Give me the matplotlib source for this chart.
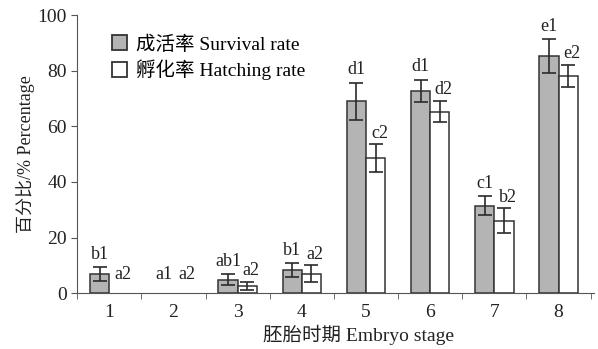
import matplotlib
matplotlib.use("Agg")
import matplotlib.pyplot as plt
from matplotlib.patches import Patch
import numpy as np

plt.rcParams['font.family'] = ['Liberation Serif', 'Noto Sans CJK SC']

stages = ['1', '2', '3', '4', '5', '6', '7', '8']
survival = [7, 0, 4.8, 8.2, 69, 72.8, 31.5, 85.2]
survival_err = [2.5, 0, 2, 2.5, 6.7, 4, 3.5, 6]
hatching = [0, 0, 2.6, 7, 48.5, 65.3, 26, 78]
hatching_err = [0, 0, 1.5, 3, 5, 3.7, 4.5, 4]
survival_labels = ['b1', 'a1', 'ab1', 'b1', 'd1', 'd1', 'c1', 'e1']
hatching_labels = ['a2', 'a2', 'a2', 'a2', 'c2', 'd2', 'b2', 'e2']

gray = '#555555'
dark = '#222222'
fill_s = '#b4b4b4'
edge = '#333333'
fig = plt.figure(figsize=(5.98, 3.49), dpi=100)
ax = fig.add_axes([0.129, 0.160, 0.864, 0.797])

x = np.arange(len(stages))
w = 0.3
s_edge = [edge if v > 0 else 'none' for v in survival]
h_edge = [edge if v > 0 else 'none' for v in hatching]
ax.bar(x - w / 2, survival, w, color=fill_s, edgecolor=s_edge, linewidth=1.1)
ax.bar(x + w / 2, hatching, w, color='white', edgecolor=h_edge, linewidth=1.1)

# error bars only where there is a spread
for xs, vals, errs in [(x - w / 2, survival, survival_err), (x + w / 2, hatching, hatching_err)]:
    keep = [i for i in range(len(vals)) if errs[i] > 0]
    ax.errorbar([xs[i] for i in keep], [vals[i] for i in keep], yerr=[errs[i] for i in keep],
                fmt='none', ecolor='#2a2a2a', elinewidth=1.2, capsize=5, capthick=1.2)

# significance letters
for i in range(len(stages)):
    if survival[i] == 0:
        ys = 3.5
    else:
        ys = survival[i] + survival_err[i] + 1.5
    ax.text(x[i] - w / 2, ys, survival_labels[i], ha='center', va='bottom', fontsize=13, color=dark)
    if hatching[i] == 0:
        yh = 3.5
    else:
        yh = hatching[i] + hatching_err[i] + 1
    ax.text(x[i] + w / 2 + 0.06, yh, hatching_labels[i], ha='center', va='bottom', fontsize=13, color=dark)

ax.set_xlim(-0.5, 7.55)
ax.set_ylim(0, 100)
ax.set_yticks(np.arange(0, 101, 20))
ax.set_xticks(x)
ax.set_xticklabels(stages)
ax.set_xticks(np.arange(-0.5, 7.6, 1), minor=True)
ax.tick_params(axis='x', which='major', length=0, pad=8)
ax.tick_params(axis='x', which='minor', length=4, direction='out', color=gray)
ax.tick_params(axis='y', length=4, direction='out', color=gray)
ax.tick_params(labelsize=14, labelcolor=dark)

for s in ['top', 'right']:
    ax.spines[s].set_visible(False)
for s in ['left', 'bottom']:
    ax.spines[s].set_color(gray)

ax.set_ylabel('百分比/% Percentage', fontsize=13, color=dark, labelpad=2)
ax.set_xlabel('胚胎时期 Embryo stage', fontsize=14, color=dark, labelpad=5)
ax.xaxis.set_label_coords(0.545, -0.115)

handles = [Patch(facecolor=fill_s, edgecolor=edge, linewidth=1.3, label='成活率 Survival rate'),
           Patch(facecolor='white', edgecolor=edge, linewidth=1.3, label='孵化率 Hatching rate')]
ax.legend(handles=handles, loc='upper left', bbox_to_anchor=(0.033, 0.99), frameon=False, fontsize=14,
          handlelength=0.8, handleheight=0.8, handletextpad=0.45, labelspacing=0.3)

fig.savefig('out.png', dpi=100)
